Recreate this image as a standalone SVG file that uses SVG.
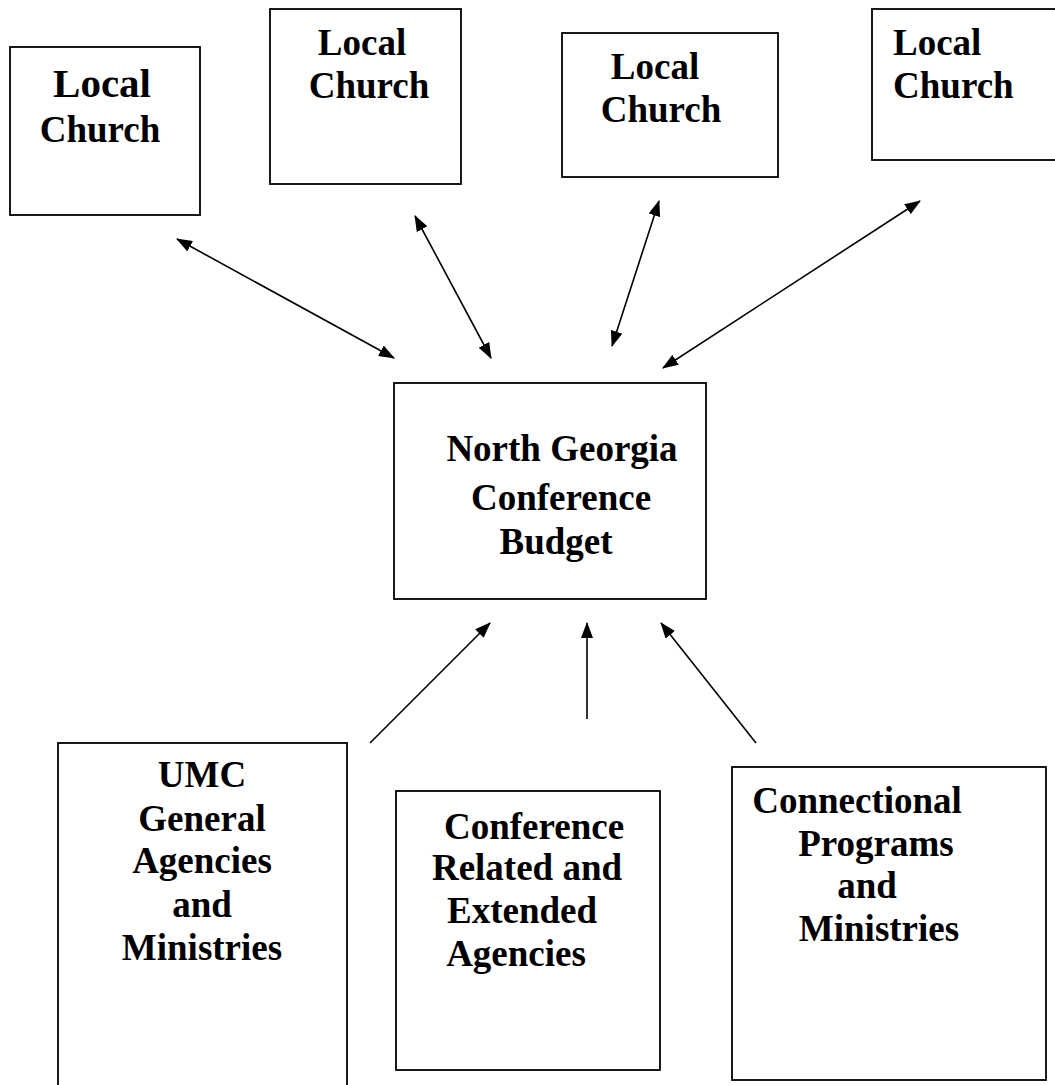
<svg xmlns="http://www.w3.org/2000/svg" width="1055" height="1085" viewBox="0 0 1055 1085">
<style>
.box{fill:#fff;stroke:#000;stroke-width:1.8}
.t{font-family:"Liberation Serif","Times New Roman",serif;font-weight:bold;font-size:37px;fill:#000;text-anchor:middle}
.ts{text-anchor:start}
.c{stroke:#000;stroke-width:1.6;fill:none}
</style>
<defs>
<marker id="ah" viewBox="0 0 16 12" refX="15" refY="6" markerWidth="16" markerHeight="12" markerUnits="userSpaceOnUse" orient="auto-start-reverse">
<path d="M0,0 L16,6 L0,12 z" fill="#000"/>
</marker>
</defs>
<rect width="1055" height="1085" fill="#fff"/>
<g id="church1"><rect class="box" x="10" y="47" width="190" height="168"/><text class="t" x="102" y="97" style="font-size:41px">Local</text><text class="t" x="100" y="142">Church</text></g>
<g id="church2"><rect class="box" x="270" y="9" width="191" height="175"/><text class="t" x="362" y="55">Local</text><text class="t" x="369" y="98">Church</text></g>
<g id="church3"><rect class="box" x="562" y="33" width="216" height="144"/><text class="t" x="655" y="79">Local</text><text class="t" x="661" y="122">Church</text></g>
<g id="church4"><rect class="box" x="872" y="9" width="200" height="151"/><text class="t ts" x="893" y="55">Local</text><text class="t ts" x="893" y="98">Church</text></g>
<g id="budget"><rect class="box" x="394" y="383" width="312" height="216"/><text class="t" x="562" y="461">North Georgia</text><text class="t" x="561" y="510">Conference</text><text class="t" x="556" y="554">Budget</text></g>
<g id="umc"><rect class="box" x="58" y="743" width="289" height="360"/><text class="t" x="202" y="787">UMC</text><text class="t" x="202" y="831">General</text><text class="t" x="202" y="873">Agencies</text><text class="t" x="202" y="917">and</text><text class="t" x="202" y="960">Ministries</text></g>
<g id="confrel"><rect class="box" x="396" y="791" width="264" height="279"/><text class="t" x="534" y="839">Conference</text><text class="t" x="527" y="880">Related and</text><text class="t" x="522" y="923">Extended</text><text class="t" x="516" y="966">Agencies</text></g>
<g id="connectional"><rect class="box" x="732" y="767" width="314" height="313"/><text class="t" x="857" y="813">Connectional</text><text class="t" x="876" y="856">Programs</text><text class="t" x="867" y="898">and</text><text class="t" x="879" y="941">Ministries</text></g>
<g id="connectors">
<line class="c" x1="177" y1="239" x2="394" y2="358" marker-start="url(#ah)" marker-end="url(#ah)"/>
<line class="c" x1="415" y1="216" x2="491" y2="358" marker-start="url(#ah)" marker-end="url(#ah)"/>
<line class="c" x1="659" y1="201" x2="612" y2="346" marker-start="url(#ah)" marker-end="url(#ah)"/>
<line class="c" x1="920" y1="201" x2="663" y2="368" marker-start="url(#ah)" marker-end="url(#ah)"/>
<line class="c" x1="370" y1="743" x2="490" y2="623" marker-end="url(#ah)"/>
<line class="c" x1="587" y1="719" x2="587" y2="623" marker-end="url(#ah)"/>
<line class="c" x1="756" y1="743" x2="661" y2="623" marker-end="url(#ah)"/>
</g>
</svg>
